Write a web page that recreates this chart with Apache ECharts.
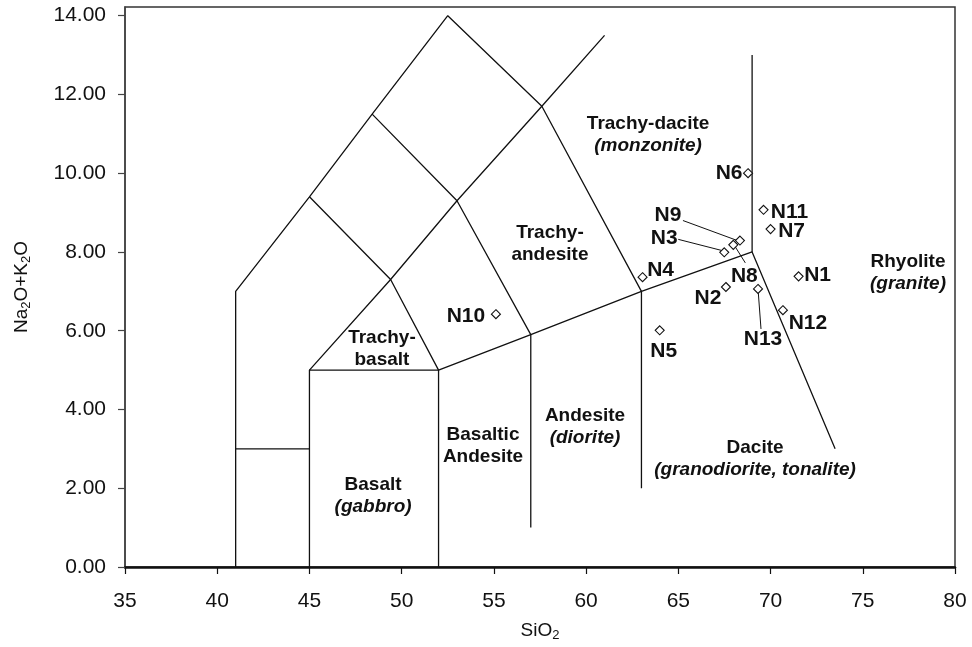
<!DOCTYPE html>
<html>
<head>
<meta charset="utf-8">
<title>TAS diagram</title>
<script src="https://cdn.jsdelivr.net/npm/echarts@6/dist/echarts.min.js"></script>
<style>
  html, body { margin: 0; padding: 0; background: #fff; }
  #chart { width: 972px; height: 647px; }
</style>
</head>
<body>
<div id="chart"></div>
<script>
// Samples: SiO2 (wt%) against total alkalis Na2O+K2O (wt%)
const sampleNames = ['N1', 'N2', 'N3', 'N4', 'N5', 'N6', 'N7', 'N8', 'N9', 'N10', 'N11', 'N12', 'N13'];
const silica  = [71.52, 67.58, 67.49, 63.06, 63.99, 68.78, 70.00, 67.98, 68.34, 55.11, 69.62, 70.67, 69.32];
const alkalis = [7.38, 7.11, 7.99, 7.36, 6.01, 10.00, 8.58, 8.18, 8.29, 6.42, 9.07, 6.52, 7.06];

// Field boundaries of the classification (each entry is one polyline)
const boundaries = [
  [[41, 0], [41, 7], [45, 9.4], [48.4, 11.5], [52.5, 14], [57.6, 11.7], [63, 7], [69, 8], [73.5, 3]],
  [[41, 3], [45, 3]],
  [[45, 0], [45, 5], [52, 5], [52, 0]],
  [[45, 5], [49.4, 7.3], [53, 9.3], [57.6, 11.7], [61, 13.5]],
  [[45, 9.4], [49.4, 7.3], [52, 5]],
  [[48.4, 11.5], [53, 9.3], [57, 5.9], [57, 1]],
  [[52, 5], [57, 5.9], [63, 7]],
  [[63, 7], [63, 2]],
  [[69, 8], [69, 13]]
];

// Field names: volcanic name, plutonic equivalent (italic), anchor in SiO2 / alkali units
const zoneTitles = ['Trachy-dacite', 'Trachy-\nandesite', 'Trachy-\nbasalt', 'Basalt', 'Basaltic\nAndesite', 'Andesite', 'Dacite', 'Rhyolite'];
const zoneRocks  = ['monzonite', '', '', 'gabbro', '', 'diorite', 'granodiorite, tonalite', 'granite'];
const zoneX = [63.36, 58.04, 48.93, 48.45, 54.41, 59.94, 69.16, 77.45];
const zoneY = [10.97, 8.21, 5.55, 1.80, 3.08, 3.57, 2.75, 7.48];

const yTicks = [0, 2, 4, 6, 8, 10, 12, 14];

// Label placement for each sample (pixel offset of the label centre from its symbol)
const labelOffsets = {
  N1: [19, -1], N2: [-18, 11], N3: [-60, -14], N4: [18, -7], N5: [4, 21],
  N6: [-19, 0], N7: [21, 2], N8: [11, 31], N9: [-72, -25], N10: [-30, 2],
  N11: [26, 2], N12: [25, 13], N13: [5, 50]
};
// Leader lines: start and end, in pixels relative to the symbol
const leaderOffsets = {
  N9: [[-4, -0.5], [-57, -20]],
  N3: [[-3, -2], [-46, -13]],
  N8: [[2, 2], [12, 18]],
  N13: [[0.3, 4], [3, 40]]
};

const FONT = "'Liberation Sans', Arial, Helvetica, sans-serif";
const INK = '#111';

const boundarySeries = boundaries.map(function (pts) {
  return {
    type: 'line',
    data: pts,
    symbol: 'none',
    silent: true,
    animation: false,
    lineStyle: { color: INK, width: 1.3 },
    z: 2
  };
});

const samplePoints = sampleNames.map(function (name, i) {
  const off = labelOffsets[name] || [0, 0];
  return {
    name: name,
    value: [silica[i], alkalis[i]],
    label: { offset: off }
  };
});

const leaderData = sampleNames
  .map(function (name, i) { return [silica[i], alkalis[i], i]; })
  .filter(function (d) { return leaderOffsets[sampleNames[d[2]]]; });

const zonePoints = zoneTitles.map(function (t, i) {
  return { value: [zoneX[i], zoneY[i]], title: t, rock: zoneRocks[i] };
});

const chart = echarts.init(document.getElementById('chart'), null, { renderer: 'canvas' });

chart.setOption({
  animation: false,
  backgroundColor: '#fff',
  grid: {
    left: 125, right: 17, top: 7, bottom: 79,
    show: true, borderColor: '#333', borderWidth: 1.5
  },
  xAxis: {
    type: 'value',
    min: 35, max: 80, interval: 5,
    name: 'SiO{sub|2}',
    nameLocation: 'middle',
    nameGap: 52,
    nameTextStyle: {
      fontFamily: FONT, fontSize: 19, color: INK,
      rich: { sub: { fontFamily: FONT, fontSize: 13, color: INK, padding: [10, 0, 0, 0] } }
    },
    axisLine: { show: true, lineStyle: { color: INK, width: 2.5 } },
    axisTick: { show: true, inside: false, length: 7, lineStyle: { color: INK, width: 1.2 } },
    axisLabel: { fontFamily: FONT, fontSize: 21, color: INK, margin: 24 },
    splitLine: { show: false }
  },
  yAxis: {
    type: 'value',
    min: 0, max: 14.22,
    name: 'Na{sub|2}O+K{sub|2}O',
    nameLocation: 'middle',
    nameGap: 92,
    nameTextStyle: {
      fontFamily: FONT, fontSize: 19, color: INK,
      rich: { sub: { fontFamily: FONT, fontSize: 13, color: INK, padding: [10, 0, 0, 0] } }
    },
    axisLine: { show: true, lineStyle: { color: '#444', width: 1.5 } },
    axisTick: { show: true, length: 7, customValues: yTicks, lineStyle: { color: '#444', width: 1.2 } },
    axisLabel: {
      fontFamily: FONT, fontSize: 21, color: INK, margin: 19,
      customValues: yTicks,
      formatter: function (v) { return v.toFixed(2); }
    },
    splitLine: { show: false }
  },
  series: boundarySeries.concat([
    {
      type: 'custom',
      name: 'leaders',
      silent: true,
      data: leaderData,
      z: 3,
      renderItem: function (params, api) {
        const p = api.coord([api.value(0), api.value(1)]);
        const off = leaderOffsets[sampleNames[api.value(2)]];
        return {
          type: 'line',
          shape: {
            x1: p[0] + off[0][0], y1: p[1] + off[0][1],
            x2: p[0] + off[1][0], y2: p[1] + off[1][1]
          },
          style: { stroke: INK, lineWidth: 1 }
        };
      }
    },
    {
      type: 'scatter',
      name: 'samples',
      data: samplePoints,
      symbol: 'diamond',
      symbolSize: [9, 9],
      itemStyle: { color: '#fff', borderColor: INK, borderWidth: 1.1, opacity: 1 },
      z: 5,
      label: {
        show: true,
        position: 'inside',
        formatter: '{b}',
        fontFamily: FONT, fontSize: 21, fontWeight: 'bold', color: INK
      }
    },
    {
      type: 'scatter',
      name: 'fields',
      data: zonePoints,
      symbolSize: 0,
      silent: true,
      itemStyle: { opacity: 1 },
      z: 4,
      label: {
        show: true,
        position: 'inside',
        align: 'center',
        verticalAlign: 'middle',
        formatter: function (p) {
          const lines = p.data.title.split('\n').map(function (s) { return '{b|' + s + '}'; });
          if (p.data.rock) lines.push('{i|(' + p.data.rock + ')}');
          return lines.join('\n');
        },
        rich: {
          b: { fontFamily: FONT, fontSize: 19, fontWeight: 'bold', color: INK, lineHeight: 22, align: 'center' },
          i: { fontFamily: FONT, fontSize: 19, fontWeight: 'bold', fontStyle: 'italic', color: INK, lineHeight: 22, align: 'center' }
        }
      }
    }
  ])
});
</script>
</body>
</html>
